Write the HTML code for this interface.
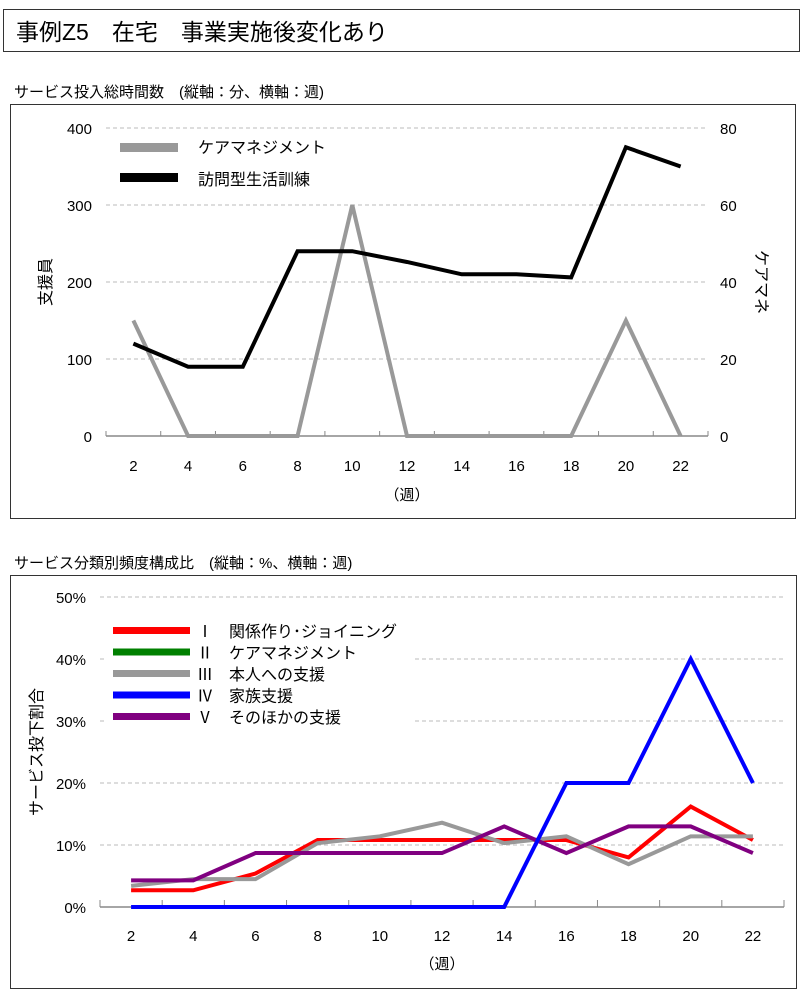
<!DOCTYPE html>
<html><head><meta charset="utf-8">
<style>
body{margin:0;background:#fff;width:800px;height:1000px;position:relative;overflow:hidden;font-family:"Liberation Sans","Noto Sans CJK JP",sans-serif;}
.box{position:absolute;border:1.5px solid #333;box-sizing:border-box;}
.t{position:absolute;white-space:nowrap;color:#000;}
svg{position:absolute;left:0;top:0;}
</style></head><body>
<div class="box" style="left:3px;top:9px;width:797px;height:43px;"></div>
<div class="t" style="left:16px;top:13px;font-size:23px;">事例Z5　在宅　事業実施後変化あり</div>
<div class="t" style="left:14px;top:81px;font-size:15px;">サービス投入総時間数　(縦軸：分、横軸：週)</div>
<div class="box" style="left:10px;top:104px;width:786px;height:415px;"></div>
<div class="t" style="left:14px;top:552px;font-size:15px;">サービス分類別頻度構成比　(縦軸：%、横軸：週)</div>
<div class="box" style="left:10px;top:575px;width:787px;height:414px;"></div>
<svg width="800" height="1000" id="svg" font-family="Liberation Sans, Noto Sans CJK JP, sans-serif"></svg>
<script>
const weeks=["2","4","6","8","10","12","14","16","18","20","22"];
const visitTraining=[120,90,90,240,240,226,210,210,206,375,350];
const careMgmt=[30,0,0,0,60,0,0,0,0,30,0];
const leftTicks=[0,100,200,300,400];
const rightTicks=[0,20,40,60,80];
const rel=[2.7,2.7,5.4,10.8,10.8,10.8,10.8,10.8,8,16.2,10.8];
const cm2=[null,null,null,null,null,null,null,null,null,null,null];
const self=[3.4,4.5,4.5,10.3,11.4,13.6,10.3,11.4,6.9,11.4,11.4];
const family=[0,0,0,0,0,0,0,20,20,40,20];
const other=[4.3,4.3,8.7,8.7,8.7,8.7,13,8.7,13,13,8.7];
const pctTicks=[0,10,20,30,40,50];

const svg=document.getElementById('svg');
const NS='http://www.w3.org/2000/svg';
function mk(tag,attrs,parent){const e=document.createElementNS(NS,tag);for(const k in attrs)e.setAttribute(k,attrs[k]);(parent||svg).appendChild(e);return e;}
function txt(x,y,s,size,anchor,parent){const e=mk('text',{x:x,y:y,'font-size':size,'text-anchor':anchor||'middle'},parent);e.textContent=s;return e;}

// Chart 1
const c1={x0:106,x1:708,y0:436,y1:128};
const bw1=(c1.x1-c1.x0)/weeks.length;
const x1f=i=>c1.x0+(i+0.5)*bw1;
const yL=v=>c1.y0-(v/400)*(c1.y0-c1.y1);
const yR=v=>c1.y0-(v/80)*(c1.y0-c1.y1);
const g1=mk('g',{});


leftTicks.forEach((v,i)=>{
  if(v>0){const l=mk('line',{x1:c1.x0,x2:c1.x1,y1:yL(v),y2:yL(v),stroke:'#bbb','stroke-dasharray':'4,3'},g1);
  
  }
  const t=txt(92,yL(v)+6,String(v),15,'end',g1);
  
  
});
rightTicks.forEach(v=>{
  const t=txt(720,yR(v)+6,String(v),15,'start',g1);
  
  
});
const ax1=mk('line',{x1:c1.x0,x2:c1.x1,y1:c1.y0,y2:c1.y0,stroke:'#888','stroke-width':1.5},g1);


for(let i=0;i<=weeks.length;i++){mk('line',{x1:c1.x0+i*bw1,x2:c1.x0+i*bw1,y1:c1.y0-5,y2:c1.y0,stroke:'#888'},g1);}
weeks.forEach((w,i)=>{const t=txt(x1f(i),471,w,15,'middle',g1);
  
  });
const xt1=txt(407,500,'（週）',15,'middle',g1);


const yt1=txt(0,0,'支援員',16,'middle',g1);
yt1.setAttribute('transform','translate(51,282) rotate(-90)');


const yt2=txt(0,0,'ケアマネ',16,'middle',g1);
yt2.setAttribute('transform','translate(756,282) rotate(90)');


const pg=mk('polyline',{points:careMgmt.map((v,i)=>x1f(i)+','+yR(v)).join(' '),fill:'none',stroke:'#999','stroke-width':4,'stroke-linejoin':'miter'},g1);


const pb=mk('polyline',{points:visitTraining.map((v,i)=>x1f(i)+','+yL(v)).join(' '),fill:'none',stroke:'#000','stroke-width':4},g1);


const lg1=mk('g',{},g1);


mk('rect',{x:120,y:143,width:58,height:9,fill:'#999'},lg1);
txt(198,153,'ケアマネジメント',16,'start',lg1);
mk('rect',{x:120,y:173,width:58,height:9,fill:'#000'},lg1);
txt(198,185,'訪問型生活訓練',16,'start',lg1);

// Chart 2
const c2={x0:100,x1:784,y0:907,y1:597};
const bw2=(c2.x1-c2.x0)/weeks.length;
const x2f=i=>c2.x0+(i+0.5)*bw2;
const yP=v=>c2.y0-(v/50)*(c2.y0-c2.y1);
const g2=mk('g',{});


pctTicks.forEach(v=>{
  if(v>0){const l=mk('line',{x1:c2.x0,x2:c2.x1,y1:yP(v),y2:yP(v),stroke:'#bbb','stroke-dasharray':'4,3'},g2);
  
  }
  const t=txt(86,yP(v)+6,v+'%',15,'end',g2);
  
  
});
mk('rect',{x:104,y:612,width:310,height:122,fill:'#fff'},g2);
const ax2=mk('line',{x1:c2.x0,x2:c2.x1,y1:c2.y0,y2:c2.y0,stroke:'#888','stroke-width':1.5},g2);


for(let i=0;i<=weeks.length;i++){mk('line',{x1:c2.x0+i*bw2,x2:c2.x0+i*bw2,y1:c2.y0-7,y2:c2.y0,stroke:'#888'},g2);}
weeks.forEach((w,i)=>{const t=txt(x2f(i),941,w,15,'middle',g2);
  
  });
const xt2=txt(442,969,'（週）',15,'middle',g2);


const yt3=txt(0,0,'サービス投下割合',16,'middle',g2);
yt3.setAttribute('transform','translate(42,752) rotate(-90)');


const series=[
 {d:cm2,c:'#008000',n:'care-management-line-2',l:'Ⅱ　ケアマネジメント'},
 {d:rel,c:'#ff0000',n:'relationship-line',l:'Ⅰ　関係作り･ジョイニング'},
 {d:self,c:'#999999',n:'self-support-line',l:'Ⅲ　本人への支援'},
 {d:other,c:'#800080',n:'other-support-line',l:'Ⅴ　そのほかの支援'},
 {d:family,c:'#0000ff',n:'family-support-line',l:'Ⅳ　家族支援'}
];
series.forEach(s=>{
  const pts=[];
  s.d.forEach((v,i)=>{if(v!==null&&v!==undefined)pts.push(x2f(i)+','+yP(v));});
  if(pts.length<2)return;
  const p=mk('polyline',{points:pts.join(' '),fill:'none',stroke:s.c,'stroke-width':4},g2);
  
  
});
const lg2=mk('g',{},g2);


const legOrder=[1,0,2,4,3];
legOrder.forEach((k,j)=>{
  const s=series[k];const y=631+j*21.5;
  mk('rect',{x:113,y:y-4,width:77,height:7,fill:s.c},lg2);
  txt(197,y+6,s.l,16,'start',lg2);
});
</script>
</body></html>
